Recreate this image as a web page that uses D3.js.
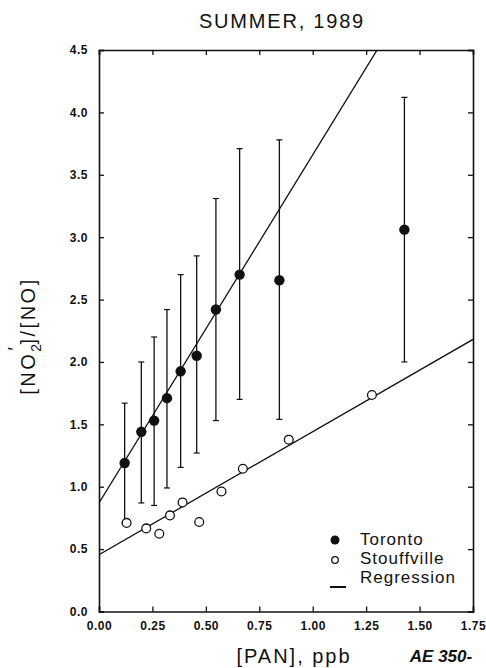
<!DOCTYPE html>
<html>
<head>
<meta charset="utf-8">
<script src="https://cdn.jsdelivr.net/npm/d3@7"></script>
<style>
  body { margin: 0; background: #fff; }
  svg { display: block; font-family: "Liberation Sans", Arial, sans-serif; }
  .tick text { font-weight: bold; font-size: 12px; letter-spacing: 0.5px; fill: #111; }
  .axis path, .axis line { stroke: #111; }
</style>
</head>
<body>
<svg class="mainsvg" width="486" height="668"></svg>
<script>
// Toronto means with error bars
var torPan = [0.12, 0.198, 0.258, 0.318, 0.382, 0.457, 0.547, 0.658, 0.844, 1.429];
var torRatio = [1.19, 1.44, 1.53, 1.71, 1.925, 2.05, 2.42, 2.70, 2.655, 3.06];
var torHigh = [1.67, 2.00, 2.20, 2.42, 2.70, 2.85, 3.31, 3.71, 3.78, 4.12];
var torLow = [0.71, 0.87, 0.85, 0.99, 1.155, 1.27, 1.53, 1.70, 1.54, 2.00];

// Stouffville means
var stoPan = [0.129, 0.221, 0.282, 0.332, 0.391, 0.469, 0.573, 0.673, 0.888, 1.277];
var stoRatio = [0.71, 0.666, 0.623, 0.77, 0.874, 0.717, 0.962, 1.144, 1.377, 1.735];

// regression lines: [intercept, slope]
var torFit = [0.87, 2.79];
var stoFit = [0.455, 0.986];

var xTicks = [0, 0.25, 0.5, 0.75, 1.0, 1.25, 1.5, 1.75];
var yTicks = [0, 0.5, 1.0, 1.5, 2.0, 2.5, 3.0, 3.5, 4.0, 4.5];

var plotLeft = 99, plotRight = 473, plotTop = 50, plotBottom = 611.5;

var svg = d3.select(".mainsvg");

var x = d3.scaleLinear().domain([0, 1.75]).range([plotLeft, plotRight]);
var y = d3.scaleLinear().domain([0, 4.5]).range([plotBottom, plotTop]);

svg.append("defs").append("clipPath").attr("id", "plotclip")
    .append("rect")
    .attr("x", plotLeft).attr("y", plotTop)
    .attr("width", plotRight - plotLeft).attr("height", plotBottom - plotTop);

// axes, ticks pointing inward on every side
var bottomAxis = d3.axisBottom(x).tickValues(xTicks).tickSize(-5).tickPadding(10)
    .tickFormat(d3.format(".2f"));
var leftAxis = d3.axisLeft(y).tickValues(yTicks).tickSize(-5).tickPadding(11)
    .tickFormat(d3.format(".1f"));
var topAxis = d3.axisTop(x).tickValues(xTicks).tickSize(-5).tickFormat("");
var rightAxis = d3.axisRight(y).tickValues(yTicks).tickSize(-5).tickFormat("");

svg.append("g").attr("class", "axis").attr("transform", "translate(0," + plotBottom + ")").call(bottomAxis);
svg.append("g").attr("class", "axis").attr("transform", "translate(" + plotLeft + ",0)").call(leftAxis);
svg.append("g").attr("class", "axis").attr("transform", "translate(0," + plotTop + ")").call(topAxis);
svg.append("g").attr("class", "axis").attr("transform", "translate(" + plotRight + ",0)").call(rightAxis);

svg.selectAll(".axis path").attr("stroke-width", 1.6);
svg.selectAll(".axis line").attr("stroke-width", 1.3);

var plot = svg.append("g").attr("clip-path", "url(#plotclip)");

// regression lines
[torFit, stoFit].forEach(function (f) {
    plot.append("line")
        .attr("x1", x(0)).attr("y1", y(f[0]))
        .attr("x2", x(1.75)).attr("y2", y(f[0] + f[1] * 1.75))
        .attr("stroke", "#111").attr("stroke-width", 1.3);
});

// error bars
var tor = torPan.map(function (p, i) {
    return { pan: p, ratio: torRatio[i], hi: torHigh[i], lo: torLow[i] };
});

var bars = plot.selectAll(".err").data(tor).enter().append("g").attr("class", "err");
bars.append("line")
    .attr("x1", function (d) { return x(d.pan); })
    .attr("x2", function (d) { return x(d.pan); })
    .attr("y1", function (d) { return y(d.lo); })
    .attr("y2", function (d) { return y(d.hi); })
    .attr("stroke", "#111").attr("stroke-width", 1.3);
["hi", "lo"].forEach(function (k) {
    bars.append("line")
        .attr("x1", function (d) { return x(d.pan) - 3; })
        .attr("x2", function (d) { return x(d.pan) + 3; })
        .attr("y1", function (d) { return y(d[k]); })
        .attr("y2", function (d) { return y(d[k]); })
        .attr("stroke", "#111").attr("stroke-width", 1.2);
});

plot.selectAll(".tor").data(tor).enter().append("circle")
    .attr("class", "tor")
    .attr("cx", function (d) { return x(d.pan); })
    .attr("cy", function (d) { return y(d.ratio); })
    .attr("r", 5.2)
    .attr("fill", "#111");

plot.selectAll(".sto").data(stoPan).enter().append("circle")
    .attr("class", "sto")
    .attr("cx", function (d) { return x(d); })
    .attr("cy", function (d, i) { return y(stoRatio[i]); })
    .attr("r", 4.4)
    .attr("fill", "#fff")
    .attr("stroke", "#111")
    .attr("stroke-width", 1.3);

// title and axis labels
svg.append("text")
    .attr("x", 282).attr("y", 28)
    .attr("text-anchor", "middle")
    .attr("font-size", 20).attr("letter-spacing", "1.8px")
    .attr("fill", "#111")
    .text("SUMMER, 1989");

svg.append("text")
    .attr("x", 294).attr("y", 663)
    .attr("text-anchor", "middle")
    .attr("font-size", 20).attr("letter-spacing", "2px")
    .attr("fill", "#111")
    .text("[PAN], ppb");

// handwritten stamp in the corner
svg.append("text")
    .attr("x", 441).attr("y", 662)
    .attr("text-anchor", "middle")
    .attr("font-size", 17).attr("font-weight", "bold").attr("font-style", "italic")
    .attr("fill", "#111")
    .text("AE 350-");

var yl = svg.append("text")
    .attr("transform", "translate(35,336) rotate(-90)")
    .attr("text-anchor", "middle")
    .attr("font-size", 20).attr("letter-spacing", "2.5px")
    .attr("fill", "#111");
yl.append("tspan").text("[NO");
yl.append("tspan").attr("font-size", 14).attr("dy", 6).text("2");
yl.append("tspan").attr("font-size", 18).attr("dx", -9).attr("dy", -20).text("\u2032");
yl.append("tspan").attr("dy", 14).text("]/[NO]");

// legend
var legend = svg.append("g").attr("fill", "#111").attr("font-size", 17).attr("letter-spacing", "1px");
legend.append("circle").attr("cx", 335).attr("cy", 540).attr("r", 4.5).attr("fill", "#111");
legend.append("text").attr("x", 360).attr("y", 545).text("Toronto");
legend.append("circle").attr("cx", 335).attr("cy", 560).attr("r", 3.3)
    .attr("fill", "#fff").attr("stroke", "#111").attr("stroke-width", 1.3);
legend.append("text").attr("x", 360).attr("y", 564).text("Stouffville");
legend.append("line").attr("x1", 330).attr("x2", 346).attr("y1", 587).attr("y2", 587)
    .attr("stroke", "#111").attr("stroke-width", 2);
legend.append("text").attr("x", 360).attr("y", 583).text("Regression");
</script>
</body>
</html>
